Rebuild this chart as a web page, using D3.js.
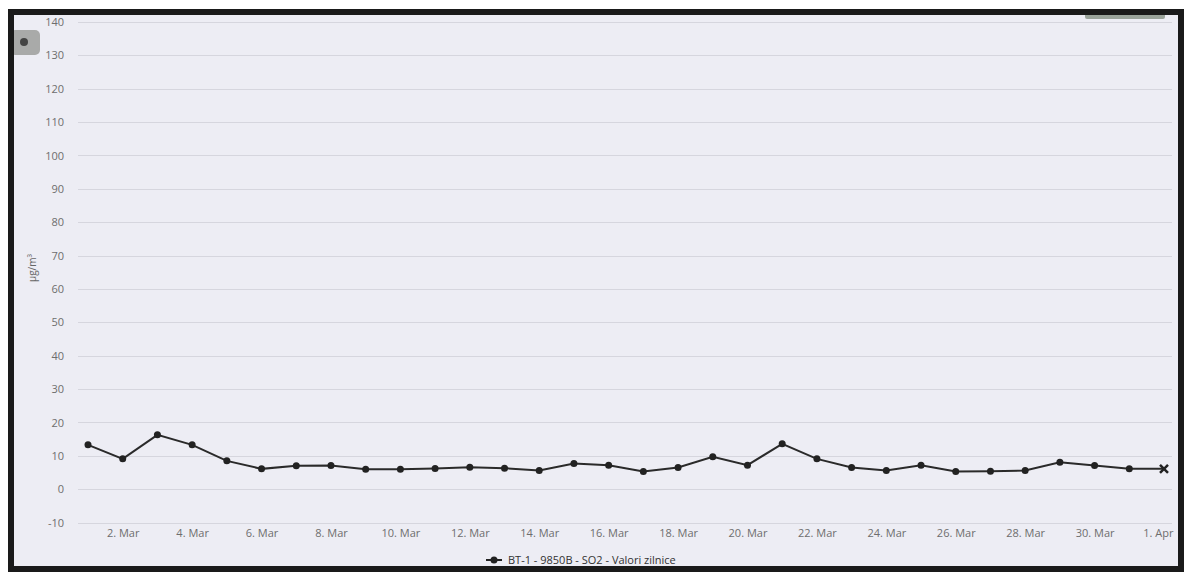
<!DOCTYPE html>
<html>
<head>
<meta charset="utf-8">
<script src="https://cdn.jsdelivr.net/npm/d3@7"></script>
<style>
  body { margin: 0; background: #fff; }
  svg { display: block; font-family: "Open Sans", sans-serif; }
  .grid line { stroke: #d6d6de; stroke-width: 1; }
  .tick-label { fill: #6e6e6e; }
</style>
</head>
<body>
<div id="chart"></div>
<script>
// daily SO2 values, 1 Mar - 1 Apr
var days = ["2021-03-01","2021-03-02","2021-03-03","2021-03-04","2021-03-05","2021-03-06",
    "2021-03-07","2021-03-08","2021-03-09","2021-03-10","2021-03-11","2021-03-12","2021-03-13",
    "2021-03-14","2021-03-15","2021-03-16","2021-03-17","2021-03-18","2021-03-19","2021-03-20",
    "2021-03-21","2021-03-22","2021-03-23","2021-03-24","2021-03-25","2021-03-26","2021-03-27",
    "2021-03-28","2021-03-29","2021-03-30","2021-03-31","2021-04-01"];
var so2 = [13.3, 9.1, 16.3, 13.3, 8.5, 6.1, 7.0, 7.1, 6.0, 6.0, 6.2, 6.6, 6.3,
    5.6, 7.7, 7.2, 5.3, 6.5, 9.7, 7.2, 13.6, 9.1, 6.5, 5.6, 7.2, 5.3, 5.4,
    5.6, 8.1, 7.1, 6.1, 6.1];
var yTicks = [-10, 0, 10, 20, 30, 40, 50, 60, 70, 80, 90, 100, 110, 120, 130, 140];
var xTickDays = ["2021-03-02","2021-03-04","2021-03-06","2021-03-08","2021-03-10","2021-03-12",
    "2021-03-14","2021-03-16","2021-03-18","2021-03-20","2021-03-22","2021-03-24","2021-03-26",
    "2021-03-28","2021-03-30","2021-04-01"];
var seriesName = "BT-1 - 9850B - SO2 - Valori zilnice";
var yTitle = "µg/m³";

var width = 1184, height = 573;
var months = ["Jan","Feb","Mar","Apr","May","Jun","Jul","Aug","Sep","Oct","Nov","Dec"];
var parse = d3.utcParse("%Y-%m-%d");

var data = days.map(function(d, i) { return {date: parse(d), v: so2[i]}; });

var svg = d3.select("#chart").append("svg")
    .attr("width", width)
    .attr("height", height);

// chart background
svg.append("rect")
    .attr("x", 8).attr("y", 9)
    .attr("width", 1174).attr("height", 561)
    .attr("fill", "#ededf4");

var plotLeft = 78, plotRight = 1172;

var xScale = d3.scaleUtc()
    .domain([data[0].date, data[data.length - 1].date])
    .range([88, 1164]);

var yScale = d3.scaleLinear()
    .domain([-10, 140])
    .range([522.6, 22]);

// horizontal grid
svg.append("g").attr("class", "grid")
    .selectAll("line").data(yTicks).enter()
    .append("line")
    .attr("x1", plotLeft).attr("x2", plotRight)
    .attr("y1", function(d) { return Math.round(yScale(d)) + 0.5; })
    .attr("y2", function(d) { return Math.round(yScale(d)) + 0.5; });

// y axis labels
var yAxis = d3.axisLeft(yScale).tickValues(yTicks).tickSize(0).tickPadding(0)
    .tickFormat(function(d) { return String(d); });
var yG = svg.append("g")
    .attr("transform", "translate(64,0)")
    .call(yAxis);
yG.select(".domain").remove();
yG.selectAll("text").attr("class", "tick-label").attr("fill", null)
    .style("font-family", "Open Sans").style("font-size", "11px");

// x axis labels
var lastDate = data[data.length - 1].date;
var xAxis = d3.axisBottom(xScale)
    .tickValues(xTickDays.map(parse))
    .tickSize(0).tickPadding(0)
    .tickFormat(function(d) { return d.getUTCDate() + ". " + months[d.getUTCMonth()]; });
var xG = svg.append("g")
    .attr("transform", "translate(0,529)")
    .call(xAxis);
xG.select(".domain").remove();
xG.selectAll("text").attr("class", "tick-label").attr("fill", null)
    .style("font-family", "Open Sans").style("font-size", "11px");
// keep the last label inside the plot, as the original does
xG.selectAll(".tick").filter(function(d, i, n) { return i === n.length - 1; })
    .select("text")
    .attr("text-anchor", "end")
    .attr("x", plotRight - xScale(lastDate) + 1);

// y title
svg.append("text")
    .attr("transform", "translate(36,268) rotate(-90)")
    .attr("text-anchor", "middle")
    .attr("fill", "#666")
    .style("font-size", "10px")
    .text(yTitle);

// series line
var line = d3.line()
    .x(function(d) { return xScale(d.date); })
    .y(function(d) { return yScale(d.v); });

svg.append("path")
    .datum(data)
    .attr("d", line)
    .attr("fill", "none")
    .attr("stroke", "#2a2a2a")
    .attr("stroke-width", 2);

svg.append("g").selectAll("circle")
    .data(data.slice(0, data.length - 1)).enter()
    .append("circle")
    .attr("cx", function(d) { return xScale(d.date); })
    .attr("cy", function(d) { return yScale(d.v); })
    .attr("r", 3.5)
    .attr("fill", "#222");

// last point is drawn as a cross
var lastPt = data[data.length - 1];
var lx = xScale(lastPt.date), ly = yScale(lastPt.v);
svg.append("path")
    .attr("d", "M" + (lx - 4) + "," + (ly - 4) + "L" + (lx + 4) + "," + (ly + 4) +
        "M" + (lx - 4) + "," + (ly + 4) + "L" + (lx + 4) + "," + (ly - 4))
    .attr("stroke", "#222")
    .attr("stroke-width", 2.5);

// legend
var legend = svg.append("g").attr("transform", "translate(486,560)");
legend.append("line")
    .attr("x1", 0).attr("x2", 16).attr("y1", 0).attr("y2", 0)
    .attr("stroke", "#222").attr("stroke-width", 2);
legend.append("circle").attr("cx", 8).attr("cy", 0).attr("r", 3.5).attr("fill", "#222");
legend.append("text")
    .attr("x", 22).attr("y", 4)
    .attr("fill", "#333")
    .style("font-size", "11px")
    .text(seriesName);

// export menu button
svg.append("rect")
    .attr("x", 10).attr("y", 30).attr("width", 30).attr("height", 25)
    .attr("rx", 5)
    .attr("fill", "#a9aaa9");
svg.append("circle").attr("cx", 24).attr("cy", 42).attr("r", 4).attr("fill", "#444");

// top right partially hidden box
svg.append("rect")
    .attr("x", 1085).attr("y", 12).attr("width", 80).attr("height", 7)
    .attr("rx", 2)
    .attr("fill", "#9aa39a");

// black frame
svg.append("rect")
    .attr("x", 11).attr("y", 12)
    .attr("width", 1170).attr("height", 557)
    .attr("fill", "none")
    .attr("stroke", "#1a1a1a")
    .attr("stroke-width", 6);
</script>
</body>
</html>
